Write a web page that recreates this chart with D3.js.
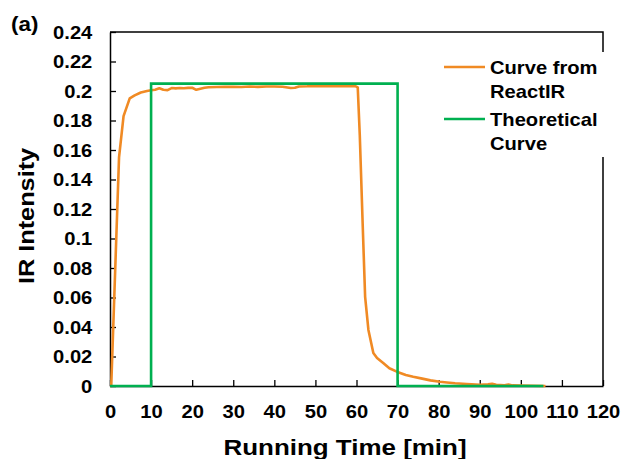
<!DOCTYPE html>
<html>
<head>
<meta charset="utf-8">
<script src="https://cdn.jsdelivr.net/npm/d3@7"></script>
<style>
  body { margin: 0; background: #fff; }
  text { font-family: "Liberation Sans", Arial, sans-serif; font-weight: bold; fill: #000; }
</style>
</head>
<body>
<div id="chart"></div>
<script>
// Datos
const reactTime = [0, 0.3, 2.2, 3.3, 4.8, 6, 7.5, 9, 10, 11, 12, 13, 14, 15, 16, 17, 18, 19, 20, 21, 22, 23, 24, 26, 28, 30, 32, 34, 36, 38, 40, 42, 44, 45, 46, 48, 50, 52, 54, 56, 58, 59.6, 60.3, 60.8, 61.5, 62.1, 62.9, 64.1, 65, 66.5, 68, 69.8, 72, 73.8, 76, 78, 80.3, 82, 84, 86.8, 88, 90, 92, 93, 94, 96, 97, 98, 100, 103, 106];
const reactIR = [0, 0, 0.155, 0.183, 0.195, 0.197, 0.199, 0.2, 0.2005, 0.2008, 0.2018, 0.2008, 0.2006, 0.202, 0.2018, 0.202, 0.2019, 0.2021, 0.2022, 0.2008, 0.2015, 0.2022, 0.2025, 0.2027, 0.2028, 0.2029, 0.2027, 0.203, 0.2028, 0.203, 0.2031, 0.2029, 0.202, 0.2022, 0.2031, 0.2032, 0.2035, 0.2033, 0.2034, 0.2032, 0.2033, 0.2035, 0.2025, 0.17, 0.11, 0.0605, 0.038, 0.0224, 0.019, 0.0156, 0.012, 0.0097, 0.0075, 0.0063, 0.005, 0.0038, 0.0029, 0.0024, 0.0019, 0.0014, 0.0012, 0.0008, 0.0012, 0.0015, 0.0008, 0.0005, 0.001, 0.0004, 0.0003, 0.0002, 0];
const theoTime = [0, 10, 10, 70, 70, 105.5];
const theoIR = [0, 0, 0.205, 0.205, 0, 0];
const xTicks = [0, 10, 20, 30, 40, 50, 60, 70, 80, 90, 100, 110, 120];
const yTicks = [0, 0.02, 0.04, 0.06, 0.08, 0.1, 0.12, 0.14, 0.16, 0.18, 0.2, 0.22, 0.24];
const legendLabels = [["Curve from", "ReactIR"], ["Theoretical", "Curve"]];
const seriesColors = ["#F08A24", "#00B050"];

// Configuración del gráfico
const margin = { top: 32, right: 20, bottom: 73, left: 110 };
const width = 623 - margin.left - margin.right;
const height = 459 - margin.top - margin.bottom;
const sx = 1.12; // estiramiento horizontal del texto

const root = d3.select('#chart')
  .append('svg')
  .attr('width', 623)
  .attr('height', 459);

const svg = root.append('g')
  .attr('transform', `translate(${margin.left},${margin.top})`);

// Escalas
const x = d3.scaleLinear().domain([0, 120]).range([0, width]);
const y = d3.scaleLinear().domain([0, 0.24]).range([height, 0]);

// Marco superior y derecho
svg.append('path')
  .attr('d', `M0,0H${width}V${height}`)
  .attr('fill', 'none')
  .attr('stroke', '#000')
  .attr('stroke-width', 1.5);

// Ejes
const xAxis = svg.append('g')
  .attr('transform', `translate(0,${height})`)
  .call(d3.axisBottom(x).tickValues(xTicks).tickSizeInner(-6).tickSizeOuter(0).tickPadding(19));
xAxis.selectAll('text')
  .style('font-size', '18px')
  .attr('transform', `scale(${sx},1)`);

const yAxis = svg.append('g')
  .call(d3.axisLeft(y).tickValues(yTicks).tickSizeInner(-6).tickSizeOuter(0).tickPadding(15.8)
    .tickFormat(d => d === 0 ? '0' : String(+d.toFixed(2))));
yAxis.selectAll('text')
  .style('font-size', '18px')
  .attr('dy', '0.36em')
  .attr('transform', `scale(${sx},1)`);

[xAxis, yAxis].forEach(a => {
  a.select('.domain').attr('stroke', '#000').attr('stroke-width', 1.5);
  a.selectAll('.tick line').attr('stroke', '#000').attr('stroke-width', 1.3);
  a.attr('font-family', null).attr('font-size', null);
});

// Curvas
const line = d3.line().x(d => x(d[0])).y(d => y(d[1]));

svg.append('path')
  .datum(reactTime.map((t, i) => [t, reactIR[i]]))
  .attr('fill', 'none')
  .attr('stroke', seriesColors[0])
  .attr('stroke-width', 2.6)
  .attr('stroke-linejoin', 'round')
  .attr('d', line);

svg.append('path')
  .datum(theoTime.map((t, i) => [t, theoIR[i]]))
  .attr('fill', 'none')
  .attr('stroke', seriesColors[1])
  .attr('stroke-width', 2.6)
  .attr('d', line);

// Leyenda
root.append('rect')
  .attr('x', 440).attr('y', 52)
  .attr('width', 175).attr('height', 105)
  .attr('fill', '#fff');

const legendY = [67, 119];
legendLabels.forEach((lines, i) => {
  root.append('line')
    .attr('x1', 444).attr('x2', 485)
    .attr('y1', legendY[i]).attr('y2', legendY[i])
    .attr('stroke', seriesColors[i])
    .attr('stroke-width', 2.6);
  lines.forEach((s, j) => {
    root.append('text')
      .attr('transform', `translate(490,${legendY[i] + 7.3 + j * 23.5}) scale(${sx},1)`)
      .style('font-size', '18px')
      .text(s);
  });
});

// Títulos
root.append('text')
  .attr('transform', `translate(345,455) scale(1.18,1)`)
  .attr('text-anchor', 'middle')
  .style('font-size', '22px')
  .text('Running Time [min]');

root.append('text')
  .attr('transform', `translate(34,216) rotate(-90) scale(1.15,1)`)
  .attr('text-anchor', 'middle')
  .style('font-size', '22px')
  .text('IR Intensity');

root.append('text')
  .attr('transform', `translate(11,31) scale(${sx},1)`)
  .style('font-size', '20px')
  .text('(a)');
</script>
</body>
</html>
